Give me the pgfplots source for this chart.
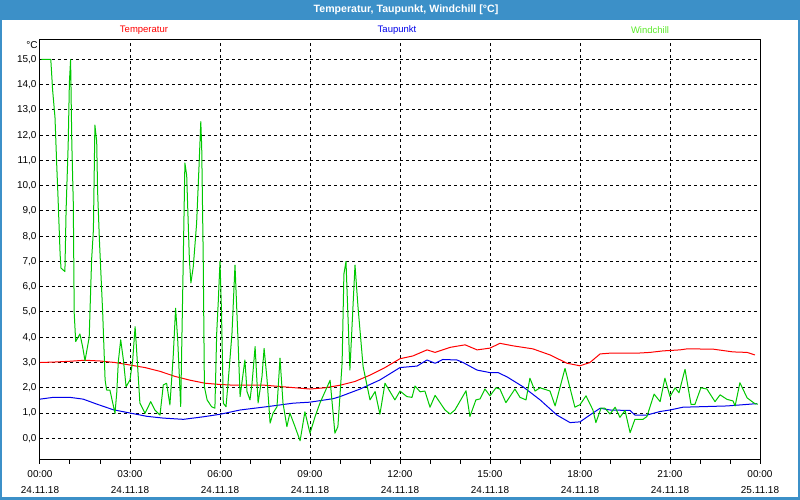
\documentclass[border=0pt]{standalone}
\usepackage{fontspec}
\setmainfont{Liberation Sans}
\usepackage{pgfplots}
\usepackage{pgfplotstable}
\pgfplotsset{compat=1.18}

\definecolor{barblue}{RGB}{60,144,200}
\definecolor{tempred}{RGB}{255,0,0}
\definecolor{taublue}{RGB}{0,0,235}
\definecolor{windgreen}{RGB}{0,200,0}
\definecolor{windlabel}{RGB}{90,235,40}

% Stunden ab 24.11.18 00:00
\pgfplotstableread{
t     v
0.00  3.00
0.50  3.02
1.00  3.05
1.50  3.09
2.00  3.06
2.50  3.00
3.00  2.90
3.50  2.80
4.00  2.65
4.50  2.45
5.00  2.30
5.50  2.18
6.00  2.13
6.50  2.10
7.00  2.10
7.50  2.10
8.00  2.05
8.50  2.00
9.00  1.95
9.50  2.00
10.00 2.10
10.50 2.25
11.00 2.50
11.50 2.80
12.00 3.15
12.43 3.26
12.90 3.50
13.17 3.40
13.67 3.60
14.17 3.70
14.57 3.50
15.00 3.57
15.33 3.76
15.77 3.66
16.43 3.54
17.00 3.30
17.57 2.97
18.00 2.87
18.33 3.00
18.67 3.34
19.00 3.37
19.90 3.37
20.33 3.40
20.77 3.46
21.33 3.50
21.57 3.54
22.43 3.53
23.10 3.42
23.57 3.40
23.83 3.30
}\temperatur

\pgfplotstableread{
t     v
0.00  1.55
0.44  1.62
1.00  1.62
1.44  1.55
1.90  1.35
2.44  1.13
3.00  1.00
3.56  0.87
4.10  0.80
4.78  0.75
5.44  0.85
6.00  0.95
6.67  1.12
7.56  1.25
8.44  1.39
9.00  1.43
9.78  1.57
10.00 1.65
10.67 1.95
11.33 2.31
12.00 2.80
12.57 2.86
12.90 3.10
13.17 2.97
13.43 3.12
13.90 3.10
14.10 3.00
14.57 2.70
15.00 2.60
15.27 2.60
15.57 2.43
16.10 2.04
16.67 1.52
17.23 0.92
17.67 0.62
18.00 0.65
18.33 0.92
18.67 1.19
19.00 1.12
19.67 1.10
19.83 0.92
20.23 0.92
20.67 1.06
21.00 1.12
21.43 1.23
22.90 1.28
23.77 1.36
23.90 1.37
}\taupunkt

\pgfplotstableread{
t     v
0.05  15.00
0.36  15.00
0.42  13.80
0.50  12.70
0.56  10.75
0.60  9.57
0.67  7.30
0.70  6.74
0.83  6.60
0.87  9.04
0.94  11.65
0.98  14.10
1.02  15.00
1.06  11.70
1.11  9.30
1.14  4.96
1.19  3.83
1.33  4.13
1.42  3.63
1.50  3.07
1.64  4.00
1.72  7.06
1.78  8.25
1.83  12.40
1.89  11.75
1.92  9.80
1.98  7.86
2.03  6.54
2.09  4.96
2.17  2.31
2.22  1.91
2.33  1.91
2.50  0.99
2.56  1.83
2.61  3.03
2.69  3.90
2.78  3.10
2.87  2.04
3.00  2.31
3.09  3.10
3.17  4.42
3.22  3.50
3.33  1.39
3.50  0.99
3.69  1.45
3.83  1.12
4.00  0.92
4.11  2.11
4.22  2.18
4.33  1.32
4.44  3.23
4.52  5.15
4.59  3.90
4.69  1.26
4.76  6.00
4.83  10.90
4.89  10.40
4.98  7.06
5.03  6.15
5.11  6.80
5.22  8.50
5.30  10.75
5.36  12.54
5.39  11.55
5.44  7.20
5.48  2.04
5.57  1.52
5.72  1.25
5.83  1.19
5.89  4.16
5.94  5.35
6.00  7.00
6.05  5.00
6.11  1.39
6.20  1.25
6.27  2.20
6.40  4.17
6.50  6.86
6.60  3.90
6.67  1.65
6.73  2.20
6.83  3.10
6.90  1.85
7.00  1.52
7.07  2.20
7.17  3.63
7.27  1.40
7.40  2.45
7.47  3.56
7.57  2.30
7.67  0.60
7.77  1.00
7.90  1.25
8.00  3.17
8.10  1.39
8.23  0.46
8.33  1.00
8.50  0.46
8.67  -0.10
8.83  1.05
9.00  0.20
9.17  0.86
9.33  1.39
9.67  2.30
9.83  0.20
9.93  0.46
10.07 2.97
10.13 6.50
10.20 7.00
10.33 2.70
10.50 6.86
10.60 5.20
10.77 2.84
11.00 1.52
11.17 1.85
11.33 0.95
11.50 2.18
11.83 1.52
12.00 1.87
12.23 1.65
12.40 1.62
12.50 2.07
12.67 1.84
12.83 1.87
13.00 1.23
13.17 1.70
13.50 1.12
13.67 0.96
13.83 1.12
14.20 1.88
14.33 0.86
14.53 1.52
14.67 1.56
14.83 1.95
15.00 1.68
15.20 2.00
15.33 1.95
15.53 1.41
15.83 1.95
16.00 1.62
16.20 1.52
16.33 2.38
16.50 1.87
16.67 2.00
17.00 1.87
17.17 1.28
17.50 2.77
17.83 1.23
18.00 1.33
18.20 1.68
18.43 1.12
18.53 0.62
18.70 1.19
18.83 1.19
19.00 0.96
19.17 1.23
19.33 0.83
19.50 1.10
19.67 0.22
19.83 0.75
20.10 0.75
20.23 0.86
20.47 1.75
20.67 1.45
20.83 2.38
21.00 1.65
21.17 2.00
21.30 1.80
21.50 2.73
21.70 1.34
21.83 1.34
22.03 2.00
22.23 1.95
22.50 1.45
22.67 1.72
22.90 1.54
23.10 1.48
23.17 1.28
23.33 2.20
23.57 1.60
23.83 1.37
23.93 1.35
}\windchill

\begin{document}
\begin{tikzpicture}
\useasboundingbox (0,0) rectangle (800pt,500pt);
\fill[white] (0,0) rectangle (800pt,500pt);
\fill[barblue] (0,480pt) rectangle (800pt,500pt);
\fill[barblue] (0,0) rectangle (2pt,480pt);
\fill[barblue] (798pt,0) rectangle (800pt,480pt);
\fill[barblue] (0,0) rectangle (800pt,3pt);
\node[white, font=\bfseries\fontsize{10.6}{12}\selectfont] at (406pt,490pt) {Temperatur, Taupunkt, Windchill [°C]};

\node[tempred, font=\fontsize{9.5}{11}\selectfont] at (144pt,470pt) {Temperatur};
\node[taublue, font=\fontsize{9.5}{11}\selectfont] at (397pt,470pt) {Taupunkt};
\node[windlabel, font=\fontsize{9.5}{11}\selectfont] at (650pt,470pt) {Windchill};
\node[font=\fontsize{10}{12}\selectfont] at (32pt,455pt) {°C};

\begin{axis}[
  at={(40pt,40pt)}, anchor=south west,
  scale only axis, width=720pt, height=420pt,
  xmin=0, xmax=24, ymin=-0.86, ymax=15.77,
  axis line style={black, line width=1pt},
  xtick={0,3,...,24},
  minor xtick={1,2,4,5,7,8,10,11,13,14,16,17,19,20,22,23},
  xticklabels={00:00\\24.11.18, 03:00\\24.11.18, 06:00\\24.11.18,
    09:00\\24.11.18, 12:00\\24.11.18, 15:00\\24.11.18,
    18:00\\24.11.18, 21:00\\24.11.18, 00:00\\25.11.18},
  xticklabel style={align=center, font=\fontsize{10}{15.5}\selectfont, yshift=-3pt},
  ytick={0,1,...,15},
  yticklabel style={font=\fontsize{10}{12}\selectfont, xshift=4pt},
  /pgf/number format/.cd, fixed, fixed zerofill, precision=1, use comma,
  assume math mode=true, /pgfplots/.cd,
  tickpos=left, tick align=outside,
  major tick length=4pt, minor tick length=4pt,
  xtick style={black, line width=1pt},
  ytick style={draw=none},
  xmajorgrids, ymajorgrids,
  major grid style={black, line width=1pt, dash pattern=on 3pt off 3pt},
  every axis plot/.append style={line width=1pt, line join=round},
  clip=true,
]
\addplot[tempred, no marks] table[x=t, y=v] {\temperatur};
\addplot[taublue, no marks] table[x=t, y=v] {\taupunkt};
\addplot[windgreen, no marks] table[x=t, y=v] {\windchill};
\end{axis}
\end{tikzpicture}
\end{document}
